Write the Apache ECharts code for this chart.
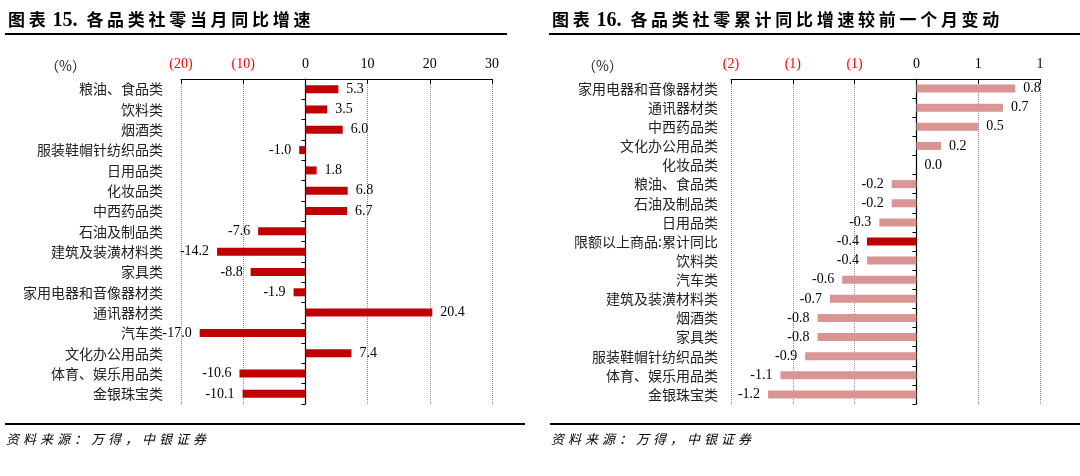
<!DOCTYPE html>
<html>
<head>
<meta charset="utf-8">
<script src="https://cdn.jsdelivr.net/npm/echarts/dist/echarts.min.js"></script>
<style>
  html, body { margin: 0; padding: 0; background: #fff; }
  #wrap { position: relative; width: 1080px; height: 476px; overflow: hidden; }
  #main { position: absolute; left: 0; top: 0; width: 1080px; height: 476px; }
  .ttl { position: absolute; top: 6px; font-family: "Noto Sans CJK SC", sans-serif; font-weight: bold; font-size: 17px; letter-spacing: 3.7px; color: #000; white-space: nowrap; }
  .ttl .num { font-family: "Liberation Serif", serif; font-size: 20px; letter-spacing: 0; margin: 0 9px 0 3px; }
  .bar { position: absolute; height: 2px; background: #000; }
  .src { position: absolute; top: 429px; font-family: "Noto Sans CJK SC", sans-serif; font-style: italic; font-size: 13px; letter-spacing: 4px; color: #000; white-space: nowrap; }
</style>
</head>
<body>
<div id="wrap">
  <div id="main"></div>
  <div class="ttl" style="left:8px;">图表<span class="num">15.</span>各品类社零当月同比增速</div>
  <div class="ttl" style="left:552px;">图表<span class="num">16.</span>各品类社零累计同比增速较前一个月变动</div>
  <div class="bar" style="left:5px; width:502px; top:33px;"></div>
  <div class="bar" style="left:549px; width:531px; top:33px;"></div>
  <div class="bar" style="left:5px; width:520px; top:423px;"></div>
  <div class="bar" style="left:550px; width:530px; top:423px;"></div>
  <div class="src" style="left:6px;">资料来源：万得，中银证券</div>
  <div class="src" style="left:551px;">资料来源：万得，中银证券</div>
</div>
<script>
// 图表15 各品类社零当月同比增速
var leftCats = ['粮油、食品类', '饮料类', '烟酒类', '服装鞋帽针纺织品类', '日用品类', '化妆品类', '中西药品类',
    '石油及制品类', '建筑及装潢材料类', '家具类', '家用电器和音像器材类', '通讯器材类', '汽车类',
    '文化办公用品类', '体育、娱乐用品类', '金银珠宝类'];
var leftVals = [5.3, 3.5, 6.0, -1.0, 1.8, 6.8, 6.7, -7.6, -14.2, -8.8, -1.9, 20.4, -17.0, 7.4, -10.6, -10.1];
var leftTicks = { min: -20, max: 30, interval: 10 };

// 图表16 各品类社零累计同比增速较前一个月变动
var rightCats = ['家用电器和音像器材类', '通讯器材类', '中西药品类', '文化办公用品类', '化妆品类', '粮油、食品类',
    '石油及制品类', '日用品类', '限额以上商品:累计同比', '饮料类', '汽车类', '建筑及装潢材料类', '烟酒类',
    '家具类', '服装鞋帽针纺织品类', '体育、娱乐用品类', '金银珠宝类'];
var rightVals = [0.8, 0.7, 0.5, 0.2, 0.0, -0.2, -0.2, -0.3, -0.4, -0.4, -0.6, -0.7, -0.8, -0.8, -0.9, -1.1, -1.2];
var rightTicks = { min: -1.5, max: 1.0, interval: 0.5 };
var rightHighlight = '限额以上商品:累计同比';

var numFont = 'Liberation Serif';
var cjkFont = 'Noto Sans CJK SC';

var myChart = echarts.init(document.getElementById('main'));

function xAxisFor(gridIndex, ticks, fmt) {
    return {
        gridIndex: gridIndex,
        type: 'value',
        position: 'top',
        min: ticks.min,
        max: ticks.max,
        interval: ticks.interval,
        axisLine: { show: true, lineStyle: { color: '#000', width: 1 } },
        axisTick: { show: true, inside: true, length: 5, lineStyle: { color: '#000' } },
        splitLine: { show: true, lineStyle: { color: '#888', type: 'dotted', width: 1 } },
        axisLabel: {
            margin: 8,
            formatter: fmt,
            rich: {
                neg: { color: '#ff0000', fontFamily: numFont, fontSize: 14 },
                pos: { color: '#000', fontFamily: numFont, fontSize: 14 }
            }
        }
    };
}

function catLabels(gridIndex, cats, margin) {
    return {
        gridIndex: gridIndex,
        type: 'category',
        data: cats,
        inverse: true,
        position: 'left',
        axisLine: { show: false, onZero: false },
        axisTick: { show: false },
        axisLabel: { margin: margin, color: '#222', fontFamily: cjkFont, fontSize: 14 }
    };
}

function zeroAxis(gridIndex, cats) {
    return {
        gridIndex: gridIndex,
        type: 'category',
        data: cats,
        inverse: true,
        position: 'left',
        axisLine: { show: true, onZero: true, lineStyle: { color: '#000', width: 1.2 } },
        axisTick: { show: true, length: 4, lineStyle: { color: '#000' } },
        axisLabel: { show: false }
    };
}

var valueLabel = {
    show: true,
    distance: 8,
    color: '#000',
    fontFamily: numFont,
    fontSize: 14,
    formatter: function (p) { return p.value.toFixed(1); }
};

function seriesData(vals, colorFn) {
    return vals.map(function (v, i) {
        return {
            value: v,
            itemStyle: { color: colorFn(i) },
            label: { position: v < 0 ? 'left' : 'right' }
        };
    });
}

myChart.setOption({
    animation: false,
    graphic: [
        { type: 'text', left: 45, top: 59, style: { text: '（%）', fontFamily: cjkFont, fontSize: 14, fill: '#222' } },
        { type: 'text', left: 582, top: 59, style: { text: '（%）', fontFamily: cjkFont, fontSize: 14, fill: '#222' } }
    ],
    grid: [
        { left: 181, right: 588, top: 79, bottom: 72 },
        { left: 731, right: 40, top: 79, bottom: 72 }
    ],
    xAxis: [
        xAxisFor(0, leftTicks, function (v) {
            return v < 0 ? '{neg|(' + Math.abs(v) + ')}' : '{pos|' + v + '}';
        }),
        xAxisFor(1, rightTicks, function (v) {
            // 原图刻度标签四舍五入到整数
            var r = Math.round(Math.abs(v));
            return v < 0 ? '{neg|(' + r + ')}' : '{pos|' + r + '}';
        })
    ],
    yAxis: [
        catLabels(0, leftCats, 18),
        zeroAxis(0, leftCats),
        catLabels(1, rightCats, 13),
        zeroAxis(1, rightCats)
    ],
    series: [
        {
            type: 'bar',
            xAxisIndex: 0,
            yAxisIndex: 0,
            barWidth: 8,
            label: valueLabel,
            data: seriesData(leftVals, function () { return '#c00000'; })
        },
        {
            type: 'bar',
            xAxisIndex: 1,
            yAxisIndex: 2,
            barWidth: 8,
            label: valueLabel,
            data: seriesData(rightVals, function (i) {
                return rightCats[i] === rightHighlight ? '#c00000' : '#d99594';
            })
        }
    ]
});
</script>
</body>
</html>
